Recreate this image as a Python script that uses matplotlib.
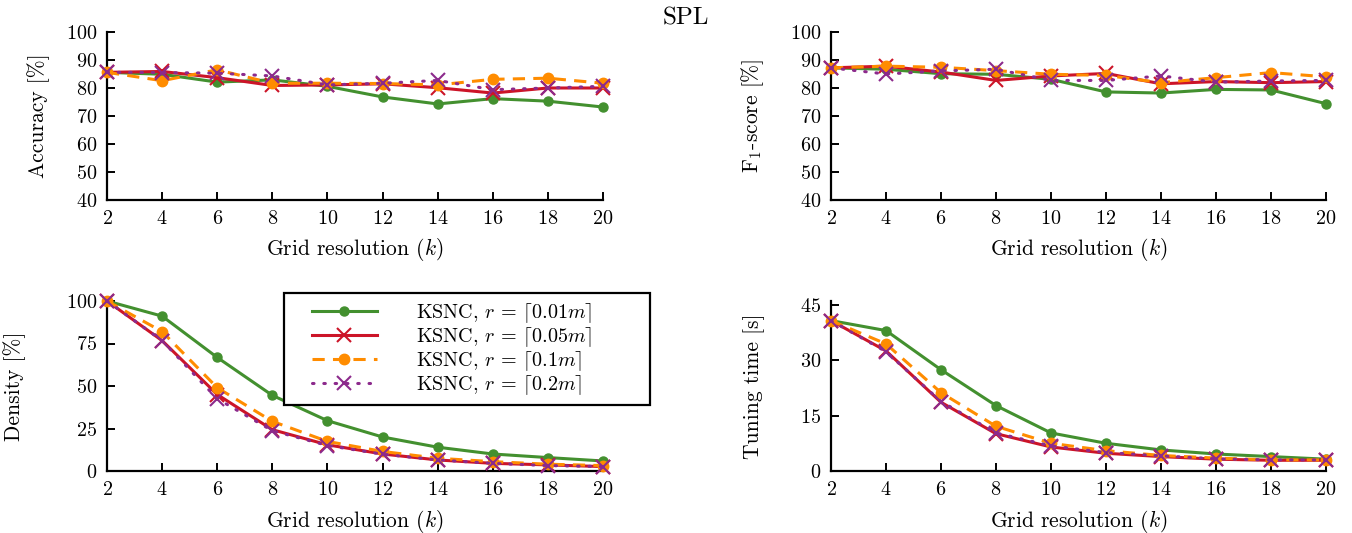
import matplotlib
matplotlib.use("Agg")
import matplotlib.pyplot as plt
from matplotlib.lines import Line2D
from matplotlib.legend_handler import HandlerLine2D

plt.rcParams['font.family'] = ['cmr10']
plt.rcParams['mathtext.fontset'] = 'cm'
plt.rcParams['axes.formatter.use_mathtext'] = True
plt.rcParams['font.size'] = 15.5

k = [2, 4, 6, 8, 10, 12, 14, 16, 18, 20]
labels = [r'KSNC, $r\,=\,\lceil 0.01m \rceil$',
          r'KSNC, $r\,=\,\lceil 0.05m \rceil$',
          r'KSNC, $r\,=\,\lceil 0.1m \rceil$',
          r'KSNC, $r\,=\,\lceil 0.2m \rceil$']

acc_001 = [85.6, 84.9, 82.1, 82.9, 80.6, 76.8, 74.3, 76.2, 75.3, 73.2]
acc_005 = [85.6, 85.9, 83.7, 80.9, 81.1, 81.5, 80.1, 78.2, 80.0, 80.0]
acc_01 = [85.6, 82.6, 86.5, 81.7, 81.7, 81.6, 81.1, 83.1, 83.5, 81.7]
acc_02 = [85.6, 85.5, 85.3, 84.3, 81.1, 81.7, 82.7, 79.4, 80.0, 80.6]

f1_001 = [87.2, 86.7, 85.1, 84.9, 83.1, 78.6, 78.2, 79.5, 79.3, 74.4]
f1_005 = [87.2, 87.8, 85.7, 82.7, 84.3, 85.2, 81.5, 82.3, 81.9, 82.3]
f1_01 = [87.2, 87.8, 87.4, 86.2, 84.9, 84.5, 81.9, 83.7, 85.5, 84.0]
f1_02 = [87.2, 85.0, 86.1, 86.7, 82.7, 82.7, 84.3, 82.1, 82.5, 82.7]

dens_001 = [100, 91.1, 66.8, 44.5, 29.6, 20.0, 14.0, 10.0, 7.9, 5.9]
dens_005 = [100, 76.7, 45.0, 24.3, 15.4, 10.0, 6.5, 4.5, 3.6, 2.6]
dens_01 = [100, 82.0, 49.0, 29.2, 17.4, 11.5, 7.5, 5.5, 4.0, 3.2]
dens_02 = [100, 76.7, 42.5, 23.7, 15.0, 9.9, 6.5, 4.5, 3.2, 2.6]

time_001 = [40.7, 38.0, 27.4, 17.7, 10.3, 7.5, 5.7, 4.6, 3.9, 3.2]
time_005 = [40.7, 32.5, 18.6, 10.1, 6.5, 4.8, 3.9, 3.2, 2.9, 2.9]
time_01 = [40.7, 34.4, 21.2, 12.1, 7.5, 5.5, 4.2, 3.5, 3.0, 3.0]
time_02 = [40.7, 32.3, 18.8, 10.3, 6.8, 5.0, 4.1, 3.3, 3.0, 3.0]

green = '#43902f'
red = '#cc1428'
orange = '#ff8c00'
purple = '#8c2a8c'

styles = [
    dict(color=green, ls='-', marker='o', ms=6.5, lw=2.2),
    dict(color=red, ls='-', marker='x', ms=10.5, mew=1.5, lw=2.2),
    dict(color=orange, ls=(0, (4, 2.7)), marker='o', ms=7.5, lw=2.2),
    dict(color=purple, ls=(0, (0.5, 3.2)), dash_capstyle='round', marker='x', ms=10.5, mew=1.5, lw=2.2),
]

fig = plt.figure(figsize=(13.52, 5.33), dpi=100)
ax_acc = fig.add_axes([107/1352, 1-200/533, 496/1352, 168/533])
ax_f1 = fig.add_axes([831/1352, 1-200/533, 495/1352, 168/533])
ax_den = fig.add_axes([107/1352, 1-471/533, 496/1352, 170/533])
ax_time = fig.add_axes([831/1352, 1-471/533, 495/1352, 170/533])

panels = [
    (ax_acc, [acc_001, acc_005, acc_01, acc_02], 'Accuracy [%]', (40, 100), range(40, 101, 10), -0.115),
    (ax_f1, [f1_001, f1_005, f1_01, f1_02], 'F$_1$-score [%]', (40, 100), range(40, 101, 10), -0.131),
    (ax_den, [dens_001, dens_005, dens_01, dens_02], 'Density [%]', (0, 100), range(0, 101, 25), -0.163),
    (ax_time, [time_001, time_005, time_01, time_02], 'Tuning time [s]', (0, 46), range(0, 46, 15), -0.133),
]

for ax, series, ylab, ylim, yt, lx in panels:
    for vals, st, lab in zip(series, styles, labels):
        ax.plot(k, vals, label=lab, clip_on=False, zorder=3, **st)
    ax.set_xlim(2, 20)
    ax.set_ylim(*ylim)
    ax.set_xticks(k)
    ax.set_yticks(list(yt))
    for s in ['top', 'right']:
        ax.spines[s].set_visible(False)
    for s in ['left', 'bottom']:
        ax.spines[s].set_linewidth(1.6)
    ax.tick_params(direction='in', length=6, width=1.4, pad=7, labelsize=14.5)
    ax.set_xlabel('Grid resolution ($k$)')
    ax.set_ylabel(ylab)
    ax.xaxis.set_label_coords(0.5, -0.215)
    ax.yaxis.set_label_coords(lx, 0.5)

# legend box spans the reference frame; handles pushed right with xpad
leg = ax_den.legend(loc='upper left',
                    bbox_to_anchor=(284/1352, 1-397/533, 366/1352, 104/533),
                    bbox_transform=fig.transFigure, mode='expand',
                    handlelength=4.2, handletextpad=1.95,
                    handler_map={Line2D: HandlerLine2D(xpad=1.0)},
                    fancybox=False, framealpha=1, edgecolor='black', fontsize=14.5,
                    borderpad=0.4, labelspacing=0.0, borderaxespad=0)
leg.get_frame().set_linewidth(1.6)

fig.text(686/1352, 1-18/533, 'SPL', ha='center', va='center', fontsize=18)

fig.savefig('out.png', dpi=100)
